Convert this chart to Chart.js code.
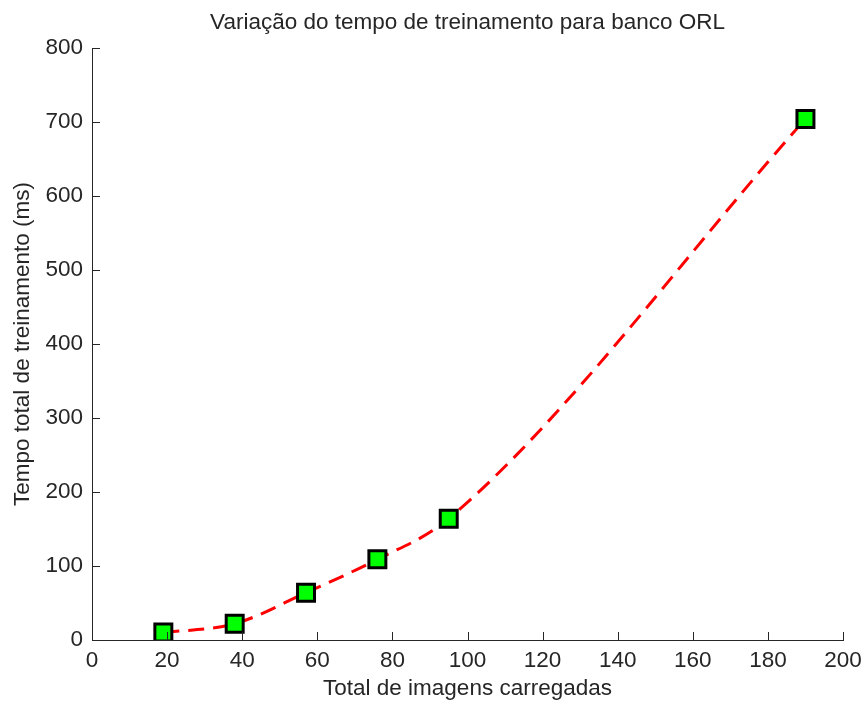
<!DOCTYPE html>
<html>
<head>
<meta charset="utf-8">
<script src="https://cdn.jsdelivr.net/npm/chart.js@4"></script>
<style>
  html, body { margin: 0; padding: 0; background: #fff; }
  #wrap { width: 861px; height: 702px; }
</style>
</head>
<body>
<div id="wrap"><canvas id="tempo-chart" width="861" height="702"></canvas></div>
<script>
// imagens carregadas x tempo de treinamento (ms)
const totalImagens = [19, 38, 57, 76, 95, 190]
const tempoTreino = [10, 22, 64, 109, 164, 704]
const xTicks = [0, 20, 40, 60, 80, 100, 120, 140, 160, 180, 200]
const yTicks = [0, 100, 200, 300, 400, 500, 600, 700, 800]

const fonte = "'Liberation Sans', Arial, sans-serif"
const corEixo = '#262626'

// ticks pequenos para dentro da área do gráfico, estilo matlab
const ticksInternos = {
  id: 'ticksInternos',
  afterDraw(chart) {
    const { ctx, chartArea, scales } = chart
    ctx.save()
    ctx.strokeStyle = corEixo
    ctx.lineWidth = 1
    ctx.beginPath()
    xTicks.forEach(v => {
      const px = Math.round(scales.x.getPixelForValue(v)) + 0.5
      ctx.moveTo(px, chartArea.bottom)
      ctx.lineTo(px, chartArea.bottom - 8)
    })
    yTicks.forEach(v => {
      const py = Math.round(scales.y.getPixelForValue(v)) + 0.5
      ctx.moveTo(chartArea.left, py)
      ctx.lineTo(chartArea.left + 8, py)
    })
    ctx.stroke()
    ctx.restore()
  }
}

const ctx = document.getElementById('tempo-chart').getContext('2d')

new Chart(ctx, {
  type: 'line',
  data: {
    datasets: [
      {
        label: 'ORL',
        data: totalImagens.map((x, i) => ({ x: x, y: tempoTreino[i] })),
        borderColor: '#ff0000',
        borderWidth: 3,
        borderDash: [16, 9],
        cubicInterpolationMode: 'monotone',
        pointStyle: 'rect',
        pointRadius: 12,
        pointHoverRadius: 12,
        pointBackgroundColor: '#00ff00',
        pointBorderColor: '#000000',
        pointBorderWidth: 3
      }
    ]
  },
  options: {
    responsive: false,
    animation: false,
    layout: { padding: { left: 0, right: 18, top: 0, bottom: 0 } },
    plugins: {
      legend: { display: false },
      tooltip: { enabled: false },
      title: {
        display: true,
        fullSize: false,
        text: 'Variação do tempo de treinamento para banco ORL',
        color: corEixo,
        font: { family: fonte, size: 22.5, weight: 'normal' },
        padding: { top: 9, bottom: 12 }
      }
    },
    scales: {
      x: {
        type: 'linear',
        min: 0,
        max: 200,
        afterFit(scale) {
          scale.height = 62
          scale.paddingLeft = 0
          scale.paddingRight = 0
        },
        afterBuildTicks(scale) { scale.ticks = xTicks.map(v => ({ value: v })) },
        grid: { display: false, drawTicks: false },
        border: { display: true, color: corEixo, width: 1 },
        ticks: { color: corEixo, padding: 7, maxRotation: 0, font: { family: fonte, size: 22.5 } },
        title: {
          display: true,
          text: 'Total de imagens carregadas',
          color: corEixo,
          font: { family: fonte, size: 22.5 },
          padding: { top: 0, bottom: 0 }
        }
      },
      y: {
        type: 'linear',
        min: 0,
        max: 800,
        afterFit(scale) {
          scale.width = 92
          scale.paddingTop = 0
          scale.paddingBottom = 0
        },
        afterBuildTicks(scale) { scale.ticks = yTicks.map(v => ({ value: v })) },
        grid: { display: false, drawTicks: false },
        border: { display: true, color: corEixo, width: 1 },
        ticks: { color: corEixo, padding: 9, font: { family: fonte, size: 22.5 } },
        title: {
          display: true,
          text: 'Tempo total de treinamento (ms)',
          color: corEixo,
          font: { family: fonte, size: 22.5 },
          padding: { top: 9, bottom: 0 }
        }
      }
    }
  },
  plugins: [ticksInternos]
})
</script>
</body>
</html>
